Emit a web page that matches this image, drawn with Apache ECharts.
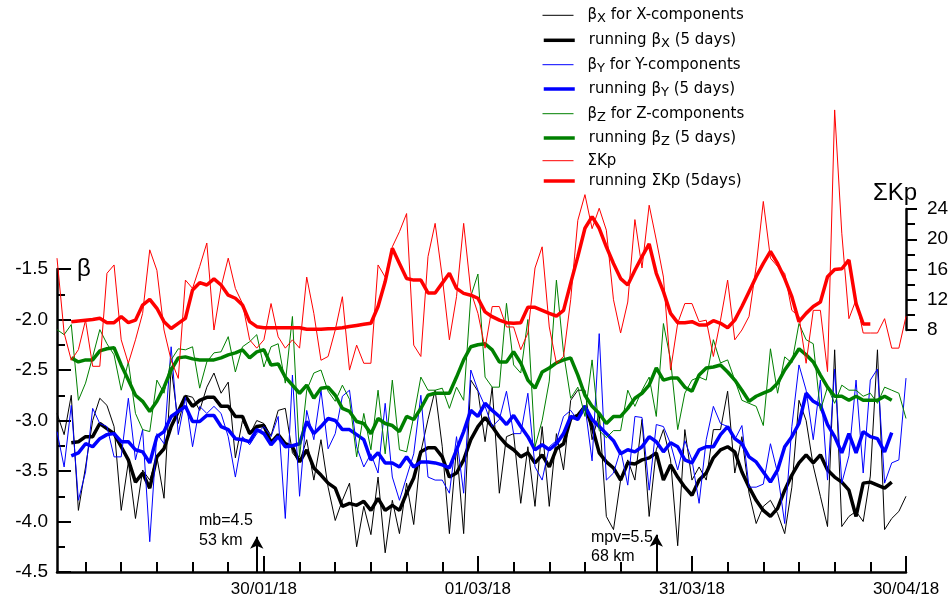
<!DOCTYPE html>
<html>
<head>
<meta charset="utf-8">
<script src="https://cdn.jsdelivr.net/npm/echarts@6/dist/echarts.min.js"></script>
<style>html,body{margin:0;padding:0;background:#fff}#c{width:951px;height:598px}</style>
</head>
<body>
<div id="c"></div>
<script>
// Day index 0 = 01/01/18
const tickDays = [4, 9, 14, 19, 24, 29, 34, 39, 44, 49, 54, 59, 64, 69, 74, 79, 84, 89, 94, 99, 104, 109, 114, 119];
const labelDays = [29, 59, 89, 119];
const labelTexts = ['30/01/18', '01/03/18', '31/03/18', '30/04/18'];

// daily values d0..d119
const betaX = [-2.93,-3.14,-2.75,-3.89,-3.46,-3.00,-2.78,-2.85,-3.06,-3.89,-3.41,-3.97,-3.49,-3.59,-3.36,-3.77,-2.47,-3.03,-2.75,-2.77,
 -2.90,-2.67,-2.53,-2.73,-2.62,-3.37,-3.00,-3.14,-3.00,-3.03,-3.15,-2.90,-2.88,-3.32,-3.41,-3.19,-3.59,-3.19,-3.66,-3.99,
 -3.79,-3.62,-4.25,-3.85,-4.13,-3.56,-4.31,-3.79,-4.12,-3.62,-4.03,-3.31,-2.99,-2.70,-3.26,-4.12,-3.26,-4.12,-2.60,-2.71,
 -3.21,-2.67,-3.72,-3.16,-3.13,-3.82,-3.26,-3.85,-3.06,-3.85,-3.13,-3.49,-2.80,-2.70,-2.70,-3.19,-2.93,-3.95,-4.08,-3.59,
 -3.39,-3.59,-2.99,-3.95,-3.29,-3.09,-3.39,-4.24,-3.09,-3.59,-3.46,-3.59,-3.09,-3.09,-2.71,-3.52,-3.16,-3.72,-4.02,-3.85,
 -3.79,-3.92,-4.12,-3.66,-2.80,-3.00,-3.45,-3.75,-4.05,-2.30,-4.05,-3.95,-3.90,-4.00,-3.55,-2.30,-4.08,-3.97,-3.90,-3.75];
const betaY = [-3.11,-3.46,-2.85,-3.79,-3.51,-2.88,-3.03,-3.06,-3.36,-3.36,-2.78,-3.39,-3.09,-4.20,-3.13,-3.23,-2.27,-3.14,-2.77,-3.26,
 -2.86,-2.93,-2.86,-2.93,-3.16,-3.56,-3.16,-3.24,-3.13,-3.06,-3.16,-2.96,-3.97,-2.55,-3.75,-2.90,-3.19,-2.70,-3.28,-3.13,
 -2.76,-2.70,-3.26,-3.46,-3.33,-3.52,-2.83,-3.56,-3.79,-3.56,-3.33,-2.75,-3.56,-3.59,-3.59,-3.72,-3.16,-3.72,-2.50,-2.70,
 -2.86,-3.06,-2.99,-2.71,-3.13,-3.13,-2.73,-3.46,-3.59,-3.26,-3.20,-2.96,-2.90,-3.00,-2.85,-3.40,-2.14,-3.59,-3.52,-3.29,
 -3.64,-2.96,-2.97,-3.69,-3.04,-3.06,-3.23,-3.49,-3.20,-3.39,-3.82,-3.19,-2.86,-3.03,-3.06,-3.19,-3.05,-3.66,-3.66,-3.63,
 -3.23,-3.52,-4.02,-3.06,-2.45,-2.70,-3.19,-2.60,-3.59,-2.49,-3.62,-3.35,-2.60,-3.52,-2.60,-2.49,-3.62,-3.42,-3.39,-2.58];
const betaZ = [-2.10,-2.15,-2.05,-2.80,-2.63,-2.37,-2.10,-2.24,-2.35,-2.70,-2.42,-2.93,-3.09,-3.11,-2.60,-2.73,-2.40,-2.29,-2.30,-2.27,
 -2.68,-2.42,-2.33,-2.32,-2.17,-2.52,-2.27,-2.22,-2.15,-2.47,-2.27,-2.24,-2.63,-1.97,-3.36,-2.70,-2.53,-2.50,-2.71,-2.81,
 -2.65,-2.79,-3.36,-2.93,-3.29,-2.70,-3.33,-2.60,-3.29,-3.31,-2.96,-2.57,-2.70,-2.70,-2.68,-2.88,-2.67,-2.80,-1.77,-1.55,
 -2.57,-2.67,-2.67,-1.84,-2.45,-2.53,-2.00,-3.26,-3.00,-2.61,-1.61,-2.33,-2.78,-2.67,-2.96,-2.40,-3.10,-3.17,-3.10,-3.10,
 -2.70,-2.86,-2.70,-2.57,-2.96,-2.04,-2.40,-3.09,-2.73,-2.60,-2.57,-2.60,-2.20,-2.43,-2.40,-2.60,-2.80,-2.83,-2.86,-3.05,
 -2.29,-2.73,-2.37,-2.43,-2.04,-2.20,-2.24,-2.90,-2.67,-2.83,-2.65,-2.70,-2.70,-2.76,-2.73,-2.83,-2.67,-2.70,-2.73,-2.98];
const sumKp = [17.5,7.6,4.0,5.4,9.3,3.2,3.2,15.5,16.6,6.7,3.6,6.7,10.2,18.6,15.9,8.0,4.0,1.6,14.6,13.5,
 16.4,19.5,8.0,13.7,17.5,13.5,11.5,6.7,5.6,6.7,11.5,7.1,5.6,6.7,5.6,15.0,10.2,4.0,4.5,8.0,
 12.4,2.7,6.0,3.6,3.6,16.6,15.0,19.0,21.0,23.4,6.0,4.5,17.7,22.1,15.0,6.7,12.4,22.1,13.1,10.2,
 5.6,11.1,11.1,8.4,8.4,5.4,7.6,16.2,19.0,8.4,3.6,4.5,12.0,22.5,25.9,21.4,24.1,21.2,12.0,7.6,
 11.7,22.6,16.2,24.5,19.9,15.0,2.7,8.9,11.5,11.5,9.1,9.3,4.5,9.3,14.6,6.7,8.0,9.8,16.4,25.0,
 17.5,16.4,15.5,10.6,9.8,3.6,10.6,10.6,2.5,37.1,20.8,9.5,12.0,7.6,7.6,7.6,9.5,5.6,5.6,9.8];

// 5-day running values, first value is day 2
const runStart = 2;
const runX = [-3.22,-3.21,-3.16,-3.16,-3.03,-3.08,-3.13,-3.26,-3.39,-3.61,-3.52,-3.67,-3.36,-3.28,-3.06,-2.91,-2.76,-2.86,-2.80,-2.77,
 -2.77,-2.86,-2.86,-2.96,-2.96,-3.13,-3.06,-3.05,-3.22,-3.14,-3.23,-3.26,-3.41,-3.29,-3.47,-3.54,-3.62,-3.67,-3.85,-3.82,
 -3.84,-3.80,-3.89,-3.77,-3.89,-3.84,-3.89,-3.72,-3.57,-3.31,-3.27,-3.27,-3.36,-3.56,-3.52,-3.39,-3.19,-3.06,-2.97,-3.06,
 -3.16,-3.24,-3.29,-3.36,-3.32,-3.42,-3.34,-3.46,-3.28,-3.23,-2.98,-2.95,-2.86,-3.06,-3.32,-3.41,-3.47,-3.59,-3.42,-3.43,
 -3.39,-3.37,-3.32,-3.59,-3.44,-3.56,-3.66,-3.74,-3.59,-3.52,-3.37,-3.29,-3.26,-3.31,-3.51,-3.66,-3.79,-3.89,-3.95,-3.87,
 -3.69,-3.54,-3.42,-3.34,-3.42,-3.34,-3.49,-3.56,-3.61,-3.69,-3.95,-3.62,-3.61,-3.64,-3.67,-3.61];
const runY = [-3.35,-3.32,-3.23,-3.26,-3.18,-3.14,-3.13,-3.21,-3.21,-3.29,-3.31,-3.42,-3.16,-3.11,-2.96,-2.91,-2.86,-3.01,-3.01,-2.95,
 -2.95,-3.06,-3.09,-3.18,-3.19,-3.21,-3.09,-3.13,-3.24,-3.16,-3.26,-3.25,-3.23,-3.01,-3.13,-3.06,-2.98,-3.00,-3.09,-3.09,
 -3.14,-3.19,-3.39,-3.32,-3.42,-3.42,-3.46,-3.36,-3.46,-3.41,-3.41,-3.42,-3.44,-3.47,-3.29,-3.11,-2.90,-2.96,-2.83,-2.90,
 -2.96,-3.04,-2.95,-3.06,-3.16,-3.29,-3.24,-3.29,-3.23,-3.13,-2.96,-2.99,-2.86,-2.99,-3.06,-3.13,-3.20,-3.33,-3.29,-3.31,
 -3.26,-3.16,-3.21,-3.31,-3.22,-3.26,-3.39,-3.42,-3.29,-3.26,-3.26,-3.14,-3.06,-3.18,-3.23,-3.36,-3.41,-3.51,-3.61,-3.49,
 -3.26,-3.16,-3.03,-2.73,-2.81,-2.85,-3.04,-3.16,-3.32,-3.13,-3.32,-3.11,-3.16,-3.18,-3.31,-3.12];
const runZ = [-2.38,-2.42,-2.40,-2.40,-2.31,-2.29,-2.28,-2.45,-2.60,-2.75,-2.81,-2.91,-2.81,-2.67,-2.50,-2.38,-2.37,-2.39,-2.40,-2.40,
 -2.40,-2.38,-2.35,-2.33,-2.30,-2.38,-2.32,-2.30,-2.45,-2.44,-2.57,-2.65,-2.73,-2.65,-2.78,-2.68,-2.67,-2.75,-2.88,-2.91,
 -3.01,-3.03,-3.13,-2.98,-3.03,-3.05,-3.11,-2.96,-2.99,-2.88,-2.75,-2.73,-2.73,-2.73,-2.57,-2.40,-2.27,-2.25,-2.24,-2.30,
 -2.42,-2.42,-2.32,-2.43,-2.60,-2.68,-2.52,-2.48,-2.43,-2.40,-2.38,-2.55,-2.75,-2.86,-2.93,-3.03,-2.96,-2.96,-2.88,-2.78,
 -2.73,-2.65,-2.48,-2.60,-2.58,-2.58,-2.67,-2.71,-2.55,-2.48,-2.47,-2.45,-2.52,-2.60,-2.70,-2.81,-2.76,-2.73,-2.70,-2.63,
 -2.50,-2.40,-2.29,-2.35,-2.42,-2.55,-2.67,-2.76,-2.76,-2.80,-2.76,-2.80,-2.80,-2.80,-2.76,-2.80];
const runKp = [9.1,9.2,9.3,9.4,9.55,8.97,8.97,9.76,8.97,9.3,11.3,12.06,10.87,9.1,8.2,8.88,9.55,13.3,14.26,13.95,
 14.75,13.95,12.6,12.2,11.3,9.1,8.44,8.3,8.3,8.3,8.3,8.3,8.3,8.1,8.1,8.1,8.15,8.2,8.3,8.45,
 8.6,8.75,8.9,11.1,14.4,18.8,16.8,14.8,14.6,14.6,12.9,12.9,14.2,15.5,13.5,12.85,12.6,12.2,10.4,9.76,
 9.3,8.97,8.88,8.97,11.0,11.0,10.6,10.2,9.85,10.6,14.2,17.7,21.45,23.0,21.45,19.0,16.8,14.8,13.95,15.9,
 17.7,19.4,15.5,13.07,10.2,8.97,8.97,9.1,8.66,8.66,9.23,8.88,8.3,9.3,11.1,13.07,15.05,16.8,18.4,16.8,
 14.8,12.4,9.1,10.2,11.1,11.7,15.05,16.0,16.1,17.26,11.5,8.8,8.8];

// event annotations
const eventDays = [28, 84];
const eventTop = [-4.15, -4.13];
const eventTexts = ['mb=4.5\n53 km', 'mpv=5.5\n68 km'];

const names = ['βX for X-components', 'running βX (5 days)', 'βY for Y-components', 'running βY (5 days)',
  'βZ for Z-components', 'running βZ (5 days)', 'ΣKp', 'running ΣKp (5days)'];
const richNames = [
  '{g|β}{s|X}{t| for X-components}', '{f|running β}{s|X}{t| (5 days)}',
  '{g|β}{s|Y}{t| for Y-components}', '{f|running β}{s|Y}{t| (5 days)}',
  '{g|β}{s|Z}{t| for Z-components}', '{f|running β}{s|Z}{t| (5 days)}',
  '{g|ΣKp}', '{f|running ΣKp (5days)}'];
const colors = ['#000000', '#000000', '#0000ff', '#0000ff', '#008000', '#008000', '#ff0000', '#ff0000'];
const widths = [1, 3.5, 1, 3.5, 1, 3.5, 1, 3.5];
const legendCenters = [17.3, 42.3, 66.7, 91, 115.7, 140, 162.7, 183];

const pair = arr => arr.map((v, i) => [i, v]);
const pairRun = arr => arr.map((v, i) => [i + runStart, v]);

const FONT = 'Liberation Sans, Arial, sans-serif';
const LFONT = 'DejaVu Sans, sans-serif';
const rich = {
  g: { fontFamily: LFONT, fontSize: 15, lineHeight: 20, padding: [0, 0, 0, 9], color: '#000' },
  f: { fontFamily: LFONT, fontSize: 15, lineHeight: 20, padding: [0, 0, 0, 9], color: '#000' },
  s: { fontFamily: LFONT, fontSize: 13, lineHeight: 12, verticalAlign: 'bottom', color: '#000' },
  t: { fontFamily: LFONT, fontSize: 15, lineHeight: 20, color: '#000' }
};

const legends = names.map((n, i) => ({
  show: true, orient: 'vertical', left: 542, top: legendCenters[i] - 10, padding: 0,
  itemWidth: 31, itemHeight: 20, selectedMode: false,
  data: [n],
  lineStyle: { width: widths[i], color: colors[i] },
  itemStyle: { opacity: 0, borderWidth: 0 },
  formatter: () => richNames[i],
  textStyle: { rich: rich, fontFamily: LFONT, fontSize: 15, color: '#000' }
}));

const seriesData = [pair(betaX), pairRun(runX), pair(betaY), pairRun(runY), pair(betaZ), pairRun(runZ), pair(sumKp), pairRun(runKp)];

const series = seriesData.map((d, i) => {
  const isKp = i >= 6;
  const s = {
    name: names[i], type: 'line', data: d,
    xAxisIndex: isKp ? 2 : 0, yAxisIndex: isKp ? 1 : 0,
    symbol: 'none', showSymbol: false, clip: !isKp,
    lineStyle: { color: colors[i], width: widths[i] },
    itemStyle: { color: colors[i] },
    z: 2 + i, silent: true
  };
  if (i === 0) {
    s.markLine = {
      silent: true, symbol: ['none', 'arrow'], symbolSize: [10, 12],
      lineStyle: { color: '#000', width: 2, type: 'solid' },
      label: { show: false },
      data: eventDays.map((day, k) => [{ coord: [day, -4.5] }, { coord: [day, eventTop[k]] }])
    };
  }
  return s;
});

const chart = echarts.init(document.getElementById('c'), null, { renderer: 'canvas' });
chart.setOption({
  animation: false,
  backgroundColor: '#fff',
  grid: [
    { left: 57, right: 45, top: 269, bottom: 26, outerBoundsMode: 'none', containLabel: false },
    { left: 57, right: 45, top: 209, bottom: 268, outerBoundsMode: 'none', containLabel: false }
  ],
  xAxis: [
    { gridIndex: 0, type: 'value', min: 0, max: 119, position: 'bottom',
      axisLine: { show: true, onZero: false, lineStyle: { color: '#000', width: 2.5 } },
      axisTick: { show: true, inside: true, length: 10, customValues: tickDays, lineStyle: { color: '#000', width: 2 } },
      axisLabel: { show: true, customValues: labelDays, margin: 9, color: '#000', fontSize: 17, fontFamily: FONT,
        formatter: v => labelTexts[labelDays.indexOf(v)] || '' },
      splitLine: { show: false } },
    { gridIndex: 0, type: 'value', min: 0, max: 119, position: 'bottom',
      axisLine: { show: false, onZero: false },
      axisTick: { show: true, inside: true, length: 16, customValues: labelDays, lineStyle: { color: '#000', width: 2 } },
      axisLabel: { show: false }, splitLine: { show: false } },
    { gridIndex: 1, type: 'value', min: 0, max: 119, show: false, splitLine: { show: false } }
  ],
  yAxis: [
    { gridIndex: 0, type: 'value', min: -4.5, max: -1.5, interval: 0.5, position: 'left',
      axisLine: { show: true, onZero: false, lineStyle: { color: '#000', width: 2.5 } },
      axisTick: { show: true, inside: true, length: 14, lineStyle: { color: '#000', width: 2 } },
      minorTick: { show: true, splitNumber: 2, length: 8, lineStyle: { color: '#000', width: 2 } },
      axisLabel: { show: true, color: '#000', fontSize: 19, fontFamily: FONT, margin: 9, formatter: v => v.toFixed(1) },
      splitLine: { show: false }, minorSplitLine: { show: false } },
    { gridIndex: 1, type: 'value', min: 8, max: 24, interval: 4, position: 'right',
      axisLine: { show: true, onZero: false, lineStyle: { color: '#000', width: 2.5 } },
      axisTick: { show: true, inside: false, length: 11, lineStyle: { color: '#000', width: 2 } },
      minorTick: { show: true, splitNumber: 2, length: 9, lineStyle: { color: '#000', width: 2 } },
      axisLabel: { show: true, color: '#000', fontSize: 19, fontFamily: FONT, margin: 21 },
      splitLine: { show: false }, minorSplitLine: { show: false } }
  ],
  legend: legends,
  series: series,
  graphic: [
    { type: 'text', left: 77, top: 257, style: { text: 'β', font: '24px ' + FONT, fill: '#000' } },
    { type: 'text', left: 873, top: 181, style: { text: 'ΣKp', font: '24px ' + FONT, fill: '#000' } },
    { type: 'text', left: 199, top: 511, style: { text: eventTexts[0], font: '16px ' + FONT, fill: '#000', lineHeight: 20 } },
    { type: 'text', left: 591, top: 528, style: { text: eventTexts[1], font: '16px ' + FONT, fill: '#000', lineHeight: 19 } }
  ]
});
</script>
</body>
</html>
